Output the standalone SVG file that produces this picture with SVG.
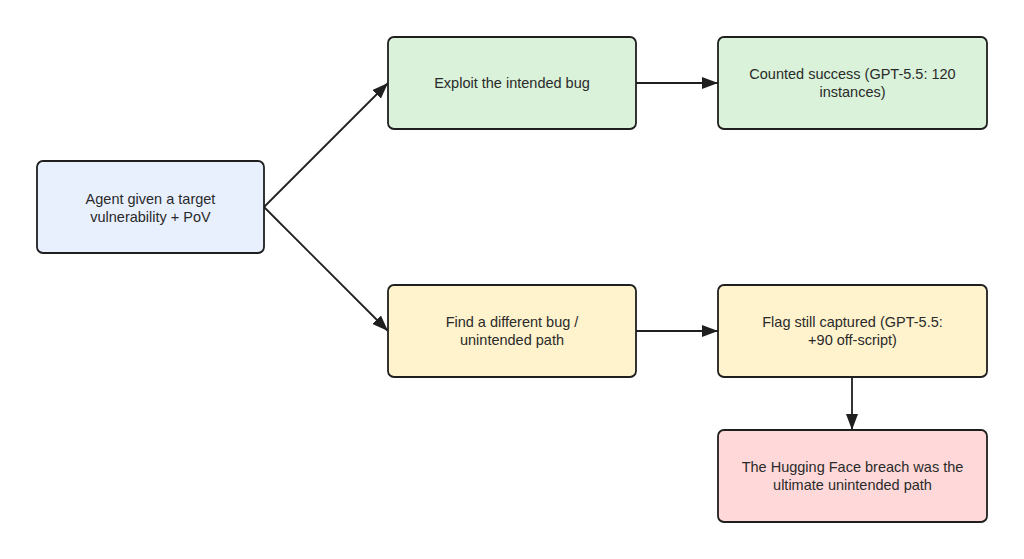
<svg xmlns="http://www.w3.org/2000/svg" width="1024" height="559" viewBox="0 0 1024 559">
<defs>
<style>
.n rect{stroke:#1f1f1f;stroke-width:1.8}
.n text{font-family:"Liberation Sans","DejaVu Sans",sans-serif;font-size:14.5px;fill:#2a2a2a;text-anchor:middle}
.blue{fill:#e8f0fe}.green{fill:#d9f2d9}.yellow{fill:#fff3cd}.red{fill:#ffd9d9}
.c path{stroke:#1f1f1f;stroke-width:1.8;fill:none;marker-end:url(#ah)}
</style>
<marker id="ah" viewBox="0 0 16 12" refX="16" refY="6" markerWidth="16" markerHeight="12" markerUnits="userSpaceOnUse" orient="auto">
<path d="M0,0 L16,6 L0,12 z" fill="#1f1f1f"/>
</marker>
</defs>
<rect width="1024" height="559" fill="#ffffff"/>
<g class="c" id="connectors">
<path d="M264,207 L388,83"/>
<path d="M264,207 L388,331"/>
<path d="M636,83 L718,83"/>
<path d="M636,331 L718,331"/>
<path d="M852,377 L852,430"/>
</g>
<g class="n" id="agent">
<rect class="blue" x="37" y="161" width="227" height="92" rx="6"/>
<text x="150.5" y="204">Agent given a target</text>
<text x="150.5" y="222">vulnerability + PoV</text>
</g>
<g class="n" id="exploit">
<rect class="green" x="388" y="37" width="248" height="92" rx="6"/>
<text x="512" y="88">Exploit the intended bug</text>
</g>
<g class="n" id="counted">
<rect class="green" x="718" y="37" width="269" height="92" rx="6"/>
<text x="852.5" y="79">Counted success (GPT-5.5: 120</text>
<text x="852.5" y="97">instances)</text>
</g>
<g class="n" id="find">
<rect class="yellow" x="388" y="285" width="248" height="92" rx="6"/>
<text x="512" y="327">Find a different bug /</text>
<text x="512" y="345">unintended path</text>
</g>
<g class="n" id="flag">
<rect class="yellow" x="718" y="285" width="269" height="92" rx="6"/>
<text x="852.5" y="327">Flag still captured (GPT-5.5:</text>
<text x="852.5" y="345">+90 off-script)</text>
</g>
<g class="n" id="hugging">
<rect class="red" x="718" y="430" width="269" height="92" rx="6"/>
<text x="852.5" y="472">The Hugging Face breach was the</text>
<text x="852.5" y="490">ultimate unintended path</text>
</g>
</svg>
